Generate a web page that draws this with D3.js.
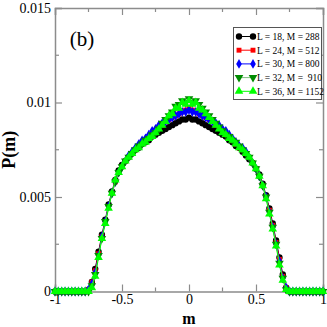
<!DOCTYPE html>
<html>
<head>
<meta charset="utf-8">
<script src="https://cdn.jsdelivr.net/npm/d3@7"></script>
<style>
  body { margin: 0; background: #fff; }
  svg { display: block; }
  svg text { font-family: "Liberation Serif", "Times New Roman", "DejaVu Serif", serif; }
</style>
</head>
<body>
<div id="chart"></div>
<script>
// magnetization grid (step 0.025)
const mValues = [
  -1, -0.975, -0.95, -0.925, -0.9, -0.875, -0.85, -0.825, -0.8, -0.775,
  -0.75, -0.725, -0.7, -0.675, -0.65, -0.625, -0.6, -0.575, -0.55, -0.525,
  -0.5, -0.475, -0.45, -0.425, -0.4, -0.375, -0.35, -0.325, -0.3, -0.275,
  -0.25, -0.225, -0.2, -0.175, -0.15, -0.125, -0.1, -0.075, -0.05, -0.025,
  0,
  0.025, 0.05, 0.075, 0.1, 0.125, 0.15, 0.175, 0.2, 0.225, 0.25,
  0.275, 0.3, 0.325, 0.35, 0.375, 0.4, 0.425, 0.45, 0.475, 0.5,
  0.525, 0.55, 0.575, 0.6, 0.625, 0.65, 0.675, 0.7, 0.725, 0.75,
  0.775, 0.8, 0.825, 0.85, 0.875, 0.9, 0.925, 0.95, 0.975, 1
];

const pL18 = [
  0, 0, 0, 0, 0, 0, 0, 0, 0, 0,
  0.0001, 0.0005, 0.0012, 0.0021, 0.0030, 0.0038, 0.0046, 0.0053, 0.0059, 0.0064,
  0.0067, 0.0069, 0.0071, 0.0073, 0.0075, 0.0076, 0.0078, 0.0079, 0.0080, 0.0082,
  0.0083, 0.0084, 0.0085, 0.0086, 0.0087, 0.0088, 0.0089, 0.0090, 0.0091, 0.0091,
  0.0092,
  0.0091, 0.0091, 0.0090, 0.0089, 0.0088, 0.0087, 0.0086, 0.0085, 0.0084, 0.0083,
  0.0082, 0.0080, 0.0079, 0.0077, 0.0076, 0.0074, 0.0072, 0.0070, 0.0068, 0.0065,
  0.0062, 0.0057, 0.0051, 0.0044, 0.0036, 0.0027, 0.0018, 0.0009, 0.0002, 0.0000,
  0, 0, 0, 0, 0, 0, 0, 0, 0, 0
];
const pL24 = [
  0, 0, 0, 0, 0, 0, 0, 0, 0, 0,
  0.0001, 0.0005, 0.0011, 0.0020, 0.0029, 0.0037, 0.0045, 0.0052, 0.0058, 0.0063,
  0.0066, 0.0069, 0.0071, 0.0073, 0.0075, 0.0077, 0.0079, 0.0080, 0.0082, 0.0083,
  0.0085, 0.0087, 0.0088, 0.0090, 0.0091, 0.0092, 0.0093, 0.0094, 0.0095, 0.0096,
  0.0097,
  0.0096, 0.0095, 0.0094, 0.0093, 0.0092, 0.0091, 0.0090, 0.0088, 0.0087, 0.0085,
  0.0083, 0.0082, 0.0080, 0.0078, 0.0076, 0.0075, 0.0073, 0.0071, 0.0068, 0.0065,
  0.0061, 0.0056, 0.0050, 0.0043, 0.0035, 0.0026, 0.0017, 0.0008, 0.0002, 0.0000,
  0, 0, 0, 0, 0, 0, 0, 0, 0, 0
];
const pL30 = [
  0, 0, 0, 0, 0, 0, 0, 0, 0, 0,
  0.0001, 0.0004, 0.0010, 0.0019, 0.0029, 0.0037, 0.0045, 0.0052, 0.0058, 0.0063,
  0.0066, 0.0069, 0.0072, 0.0074, 0.0076, 0.0078, 0.0080, 0.0081, 0.0083, 0.0085,
  0.0086, 0.0088, 0.0089, 0.0090, 0.0091, 0.0092, 0.0093, 0.0094, 0.0095, 0.0095,
  0.0096,
  0.0095, 0.0095, 0.0094, 0.0093, 0.0092, 0.0091, 0.0090, 0.0089, 0.0088, 0.0086,
  0.0085, 0.0083, 0.0081, 0.0079, 0.0077, 0.0076, 0.0074, 0.0071, 0.0068, 0.0065,
  0.0061, 0.0056, 0.0050, 0.0042, 0.0034, 0.0025, 0.0016, 0.0007, 0.0002, 0.0000,
  0, 0, 0, 0, 0, 0, 0, 0, 0, 0
];
const pL32 = [
  0, 0, 0, 0, 0, 0, 0, 0, 0, 0,
  0.0000, 0.0003, 0.0009, 0.0019, 0.0028, 0.0037, 0.0045, 0.0052, 0.0058, 0.0063,
  0.0066, 0.0069, 0.0071, 0.0073, 0.0075, 0.0077, 0.0078, 0.0080, 0.0081, 0.0083,
  0.0084, 0.0086, 0.0089, 0.0091, 0.0093, 0.0095, 0.0098, 0.0099, 0.0101, 0.0100,
  0.0102,
  0.0100, 0.0101, 0.0099, 0.0097, 0.0095, 0.0093, 0.0091, 0.0089, 0.0087, 0.0085,
  0.0083, 0.0082, 0.0080, 0.0079, 0.0077, 0.0075, 0.0073, 0.0071, 0.0068, 0.0065,
  0.0061, 0.0056, 0.0050, 0.0042, 0.0034, 0.0025, 0.0015, 0.0007, 0.0001, 0.0000,
  0, 0, 0, 0, 0, 0, 0, 0, 0, 0
];
const pL36 = [
  0, 0, 0, 0, 0, 0, 0, 0, 0, 0,
  0.0000, 0.0002, 0.0008, 0.0018, 0.0028, 0.0036, 0.0044, 0.0052, 0.0059, 0.0063,
  0.0066, 0.0069, 0.0071, 0.0073, 0.0075, 0.0076, 0.0078, 0.0079, 0.0081, 0.0082,
  0.0084, 0.0086, 0.0088, 0.0090, 0.0093, 0.0094, 0.0097, 0.0097, 0.0100, 0.0099,
  0.0101,
  0.0099, 0.0100, 0.0097, 0.0096, 0.0094, 0.0092, 0.0090, 0.0088, 0.0086, 0.0084,
  0.0083, 0.0081, 0.0080, 0.0078, 0.0076, 0.0075, 0.0073, 0.0071, 0.0068, 0.0065,
  0.0061, 0.0056, 0.0049, 0.0041, 0.0033, 0.0024, 0.0014, 0.0006, 0.0001, 0.0000,
  0, 0, 0, 0, 0, 0, 0, 0, 0, 0
];

const seriesLabels = ["L = 18, M = 288", "L = 24, M = 512", "L = 30, M = 800", "L = 32, M =  910", "L = 36, M = 1152"];
const seriesValues = [pL18, pL24, pL30, pL32, pL36];
const seriesColors = ["#000000", "#ff0000", "#0000ff", "#008b00", "#00ff00"];
const seriesLineColors = ["#000000", "#ff0000", "#0000ff", "#7fbf7f", "#00ff00"];

const xTickValues = [-1, -0.5, 0, 0.5, 1];
const xTickLabels = ["-1", "-0.5", "0", "0.5", "1"];
const yTickValues = [0, 0.005, 0.01, 0.015];
const yTickLabels = ["0", "0.005", "0.01", "0.015"];

// Store values for svg creation
const width = 327, height = 327;
var padding = {top: 8, right: 4, bottom: 36, left: 55};

var svg = d3.select("#chart").append("svg")
    .attr("width", width)
    .attr("height", height);

var xScale = d3.scaleLinear()
    .domain([-1, 1])
    .range([padding.left, width - padding.right]);
var yScale = d3.scaleLinear()
    .domain([0, 0.015])
    .range([height - padding.bottom + 0.5, padding.top]);

const frameColor = "#8c8c8c";
const x0 = xScale(-1), x1 = xScale(1), y0 = yScale(0), y1 = yScale(0.015);

// Axes: ticks pointing inward on all four sides
const bottomAxis = svg.append("g")
    .attr("transform", "translate(0," + y0 + ")")
    .call(d3.axisBottom(xScale).tickValues(xTickValues).tickSize(-7).tickPadding(3)
        .tickFormat((d, i) => xTickLabels[i]));
const topAxis = svg.append("g")
    .attr("transform", "translate(0," + y1 + ")")
    .call(d3.axisTop(xScale).tickValues(xTickValues).tickSize(-7).tickFormat(""));
const leftAxis = svg.append("g")
    .attr("transform", "translate(" + x0 + ",0)")
    .call(d3.axisLeft(yScale).tickValues(yTickValues).tickSize(-7).tickPadding(4)
        .tickFormat((d, i) => yTickLabels[i]));
const rightAxis = svg.append("g")
    .attr("transform", "translate(" + x1 + ",0)")
    .call(d3.axisRight(yScale).tickValues(yTickValues).tickSize(-7).tickFormat(""));

// Minor ticks
const xMinor = [-0.75, -0.25, 0.25, 0.75];
const yMinor = [0.0025, 0.0075, 0.0125];
bottomAxis.call(g => g.selectAll(".minor").data(xMinor).enter().append("line")
    .attr("x1", d => xScale(d)).attr("x2", d => xScale(d)).attr("y1", 0).attr("y2", -4));
topAxis.call(g => g.selectAll(".minor").data(xMinor).enter().append("line")
    .attr("x1", d => xScale(d)).attr("x2", d => xScale(d)).attr("y1", 0).attr("y2", 4));
leftAxis.call(g => g.selectAll(".minor").data(yMinor).enter().append("line")
    .attr("y1", d => yScale(d)).attr("y2", d => yScale(d)).attr("x1", 0).attr("x2", 4));
rightAxis.call(g => g.selectAll(".minor").data(yMinor).enter().append("line")
    .attr("y1", d => yScale(d)).attr("y2", d => yScale(d)).attr("x1", 0).attr("x2", -4));

svg.selectAll("g").attr("font-family", null);
svg.selectAll(".domain").attr("stroke", frameColor).attr("stroke-width", 1.5);
svg.selectAll(".tick line, g line").attr("stroke", frameColor).attr("stroke-width", 1.2);
svg.selectAll(".tick text")
    .attr("font-size", 14)
    .attr("fill", "#000");

// Axis labels
svg.append("text")
    .attr("x", xScale(0))
    .attr("y", 323.5)
    .attr("text-anchor", "middle")
    .attr("font-size", 16)
    .attr("font-weight", "bold")
    .text("m");
svg.append("text")
    .attr("transform", "translate(15," + yScale(0.0075) + ") rotate(-90)")
    .attr("text-anchor", "middle")
    .attr("font-size", 18)
    .attr("font-weight", "bold")
    .text("P(m)");

svg.append("text")
    .attr("x", 82)
    .attr("y", 46)
    .attr("text-anchor", "middle")
    .attr("font-size", 21)
    .text("(b)");

// Marker shapes for each series
const markerTypes = [
    {type: d3.symbolCircle, size: 32, rot: 0},
    {type: d3.symbolSquare, size: 24, rot: 0},
    {type: d3.symbolDiamond, size: 28, rot: 0},
    {type: d3.symbolTriangle, size: 32, rot: 180},
    {type: d3.symbolTriangle, size: 32, rot: 0}
];

const line = d3.line()
    .x(d => xScale(d[0]))
    .y(d => yScale(d[1]));

seriesValues.forEach((vals, s) => {
    const pts = mValues.map((m, i) => [m, vals[i]]);
    svg.append("path")
        .datum(pts)
        .attr("fill", "none")
        .attr("stroke", seriesLineColors[s])
        .attr("stroke-width", 1)
        .attr("d", line);
    const sym = d3.symbol().type(markerTypes[s].type).size(markerTypes[s].size);
    svg.append("g").selectAll("path")
        .data(pts)
        .enter().append("path")
        .attr("d", sym)
        .attr("fill", seriesColors[s])
        .attr("transform", d => "translate(" + xScale(d[0]) + "," + yScale(d[1]) + ") rotate(" + markerTypes[s].rot + ")");
});

// Legend
const legend = svg.append("g");
legend.append("rect")
    .attr("x", 233.5).attr("y", 27.5)
    .attr("width", 88).attr("height", 72)
    .attr("fill", "#fff")
    .attr("stroke", "#555")
    .attr("stroke-width", 1);
seriesLabels.forEach((label, s) => {
    const ly = 36.5 + s * 13.7;
    legend.append("line")
        .attr("x1", 239).attr("x2", 253).attr("y1", ly).attr("y2", ly)
        .attr("stroke", seriesLineColors[s]).attr("stroke-width", 1);
    [239, 253].forEach(lx => {
        legend.append("path")
            .attr("d", d3.symbol().type(markerTypes[s].type).size(markerTypes[s].size)())
            .attr("fill", seriesColors[s])
            .attr("transform", "translate(" + lx + "," + ly + ") rotate(" + markerTypes[s].rot + ")");
    });
    legend.append("text")
        .attr("x", 257).attr("y", ly + 3.5)
        .attr("font-size", 9.5)
        .style("white-space", "pre")
        .text(label);
});
</script>
</body>
</html>
